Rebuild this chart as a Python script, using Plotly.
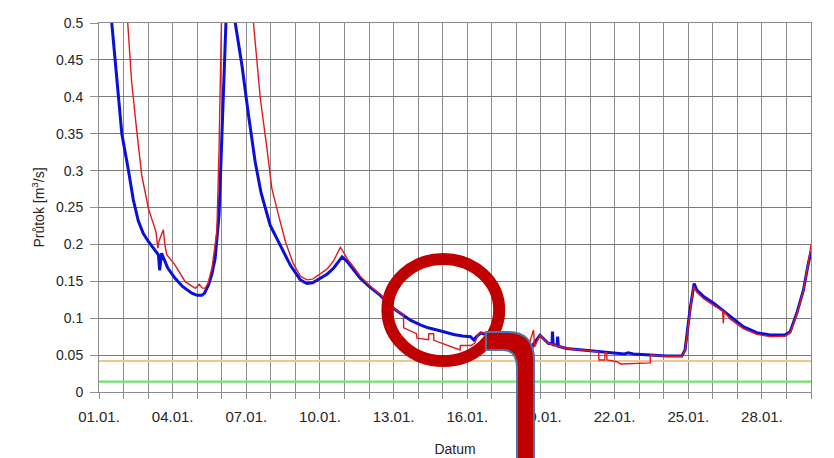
import pandas as pd
import plotly.graph_objects as go

# ---- data (days since 01.01. 00:00, flow in m3/s) ----
blue_days = [0.0, 0.3, 0.52, 0.7, 0.93, 1.2, 1.4, 1.6, 1.8, 2.01, 2.2, 2.42, 2.47, 2.5, 2.55,
             2.8, 3.1, 3.4, 3.78, 4.0, 4.19, 4.3, 4.46, 4.6, 4.73, 4.89, 4.98, 5.07, 5.17, 5.3,
             5.45, 5.55, 5.82, 6.09, 6.36, 6.6, 6.97, 7.38, 7.79, 8.2, 8.47, 8.7, 9.01, 9.3,
             9.56, 9.78, 9.9, 10.1, 10.4, 10.64, 11.0, 11.46, 12.0, 12.41, 12.7, 13.09, 13.4,
             13.77, 14.1, 14.45, 14.8, 15.13, 15.27, 15.35, 15.55, 16.0, 16.8, 17.35, 17.5,
             17.6, 17.68, 17.96, 18.3, 18.45, 18.47, 18.5, 18.66, 18.68, 18.71, 19.05, 19.73,
             20.41, 21.09, 21.4, 21.55, 21.77, 22.45, 23.13, 23.74, 23.87, 24.07, 24.24, 24.35,
             24.64, 25.05, 25.32, 25.7, 26.24, 26.79, 27.33, 27.94, 28.15, 28.42, 28.69, 28.89,
             29.0]
blue_flow = [0.72, 0.58, 0.50, 0.43, 0.35, 0.30, 0.26, 0.232, 0.215, 0.204, 0.196, 0.186, 0.165,
             0.175, 0.188, 0.168, 0.154, 0.143, 0.134, 0.131, 0.131, 0.134, 0.145, 0.16, 0.181,
             0.24, 0.33, 0.42, 0.50, 0.55, 0.53, 0.50, 0.443, 0.375, 0.312, 0.27, 0.226, 0.199,
             0.172, 0.152, 0.147, 0.148, 0.154, 0.16, 0.168, 0.178, 0.183, 0.177, 0.165, 0.154,
             0.143, 0.131, 0.113, 0.104, 0.097, 0.091, 0.087, 0.084, 0.081, 0.078, 0.076, 0.075,
             0.0705, 0.074, 0.08, 0.076, 0.072, 0.069, 0.068, 0.057, 0.064, 0.077, 0.066, 0.065,
             0.082, 0.064, 0.063, 0.075, 0.062, 0.059, 0.057, 0.0546, 0.0524, 0.0515, 0.053,
             0.0515, 0.050, 0.0488, 0.0488, 0.057, 0.111, 0.147, 0.138, 0.129, 0.120, 0.113,
             0.102, 0.0885, 0.0804, 0.0772, 0.0772, 0.0817, 0.1066, 0.138, 0.174, 0.19]

red_days = [0.5, 0.9, 1.17, 1.33, 1.54, 1.74, 2.01, 2.32, 2.40, 2.45, 2.62, 2.68, 2.76, 3.1,
            3.51, 3.92, 4.08, 4.2, 4.32, 4.45, 4.60, 4.80, 4.89, 4.98, 5.1, 5.8, 6.29, 6.57,
            6.84, 7.04, 7.31, 7.59, 7.9, 8.2, 8.47, 8.7, 9.01, 9.3, 9.56, 9.83, 9.95, 10.1,
            10.4, 10.64, 11.0, 11.46, 12.0, 12.40, 12.41, 12.93, 12.95, 13.42, 13.43, 13.63,
            13.64, 14.71, 14.72, 15.15, 15.30, 15.45, 15.6, 16.0, 16.8, 17.35, 17.55, 17.70,
            17.74, 17.96, 18.3, 19.05, 19.73, 20.35, 20.36, 20.60, 20.61, 20.68, 20.69, 21.1,
            21.25, 22.1, 22.45, 22.46, 23.13, 23.74, 23.87, 24.07, 24.22, 24.35, 24.64, 25.05,
            25.4, 25.43, 25.46, 25.7, 26.24, 26.79, 27.33, 27.94, 28.15, 28.42, 28.69, 28.89,
            29.0]
red_flow = [0.78, 0.60, 0.50, 0.42, 0.353, 0.294, 0.249, 0.217, 0.195, 0.205, 0.22, 0.20, 0.186,
            0.172, 0.1495, 0.1405, 0.146, 0.141, 0.1405, 0.148, 0.168, 0.217, 0.33, 0.50, 0.70,
            0.68, 0.50, 0.398, 0.33, 0.276, 0.24, 0.204, 0.175, 0.157, 0.152, 0.153, 0.16, 0.167,
            0.178, 0.196, 0.19, 0.181, 0.168, 0.157, 0.145, 0.132, 0.114, 0.104, 0.087, 0.079,
            0.073, 0.071, 0.079, 0.079, 0.070, 0.057, 0.063, 0.063, 0.066, 0.078, 0.081, 0.077,
            0.072, 0.069, 0.068, 0.084, 0.061, 0.077, 0.066, 0.059, 0.0565, 0.0545, 0.0434,
            0.0434, 0.0535, 0.053, 0.0434, 0.041, 0.038, 0.0395, 0.0395, 0.050, 0.0485, 0.0485,
            0.056, 0.108, 0.143, 0.135, 0.126, 0.117, 0.110, 0.093, 0.109, 0.099, 0.086, 0.078,
            0.075, 0.0755, 0.080, 0.105, 0.137, 0.175, 0.20]

threshold_values = [0.042, 0.014]
threshold_colors = ["#F5C48A", "#6EE46E"]

base = pd.Timestamp("2015-01-01")
def to_dates(days):
    return [base + pd.to_timedelta(d, unit="D") for d in days]

x_start = base
x_end = base + pd.Timedelta(days=29)

fig = go.Figure()
for val, col in zip(threshold_values, threshold_colors):
    fig.add_trace(go.Scatter(x=[x_start, x_end], y=[val, val], mode="lines",
                             line=dict(color=col, width=2.2), showlegend=False, hoverinfo="skip"))
fig.add_trace(go.Scatter(x=to_dates(blue_days), y=blue_flow, mode="lines",
                         line=dict(color="#0A10D8", width=3), showlegend=False))
fig.add_trace(go.Scatter(x=to_dates(red_days), y=red_flow, mode="lines",
                         line=dict(color="#E3181C", width=1.4), showlegend=False))

# magnifier annotation (paper coords, derived from screen pixel positions)
PL, PR, PT, PB = 99, 811, 23, 392
def px(x):
    return (x - PL) / float(PR - PL)
def py(y):
    return (PB - y) / float(PB - PT)

fig.add_shape(type="circle", xref="paper", yref="paper",
              x0=px(387.4), x1=px(499.2), y0=py(361), y1=py(259),
              line=dict(color="#C00000", width=12))
pts = [
    ("M", 486, 332), ("L", 508, 332), ("Q", 534, 332, 534, 360), ("L", 534, 470),
    ("L", 517, 470), ("L", 517, 368), ("Q", 517, 350, 503, 350), ("L", 486, 350)
]
path = ""
for p in pts:
    if p[0] == "Q":
        path += f"Q{px(p[1]):.4f},{py(p[2]):.4f} {px(p[3]):.4f},{py(p[4]):.4f} "
    else:
        path += f"{p[0]}{px(p[1]):.4f},{py(p[2]):.4f} "
path += "Z"
fig.add_shape(type="path", xref="paper", yref="paper", path=path,
              fillcolor="#C00000", line=dict(color="#4A78A6", width=2))

font_family = "Liberation Sans, Arial, sans-serif"
grid_col = "#8C8C8C"
# page body has an 8px margin, so compensate in the figure margins
OFF = 8
fig.update_layout(
    width=834, height=458,
    margin=dict(l=PL - OFF, r=834 - PR + OFF, t=PT - OFF, b=458 - PB + OFF),
    paper_bgcolor="white", plot_bgcolor="white",
    font=dict(family=font_family, size=14, color="#262626"),
    xaxis=dict(
        type="date", range=[x_start, x_end], automargin=False,
        tick0=x_start, dtick=3 * 86400000, tickformat="%d.%m.",
        ticks="outside", ticklen=6, tickcolor=grid_col,
        showgrid=True, gridcolor=grid_col, gridwidth=1,
        minor=dict(dtick=86400000, tick0=x_start, showgrid=True, gridcolor=grid_col,
                   ticks="outside", ticklen=6, tickcolor=grid_col),
        showline=True, linecolor=grid_col, mirror=True, zeroline=False,
        title=dict(text="Datum", font=dict(size=14), standoff=20),
        tickfont=dict(size=15), ticklabelstandoff=5,
    ),
    yaxis=dict(
        range=[0, 0.5], dtick=0.05, tick0=0, automargin=False,
        ticks="outside", ticklen=8, tickcolor=grid_col,
        showgrid=True, gridcolor="#7A7A7A", gridwidth=1,
        showline=True, linecolor=grid_col, mirror=True, zeroline=False,
        title=dict(text="Průtok [m<sup>3</sup>/s]", font=dict(size=14), standoff=8),
        tickfont=dict(size=14), ticklabelstandoff=4,
    ),
)

fig.write_html("out.html")
